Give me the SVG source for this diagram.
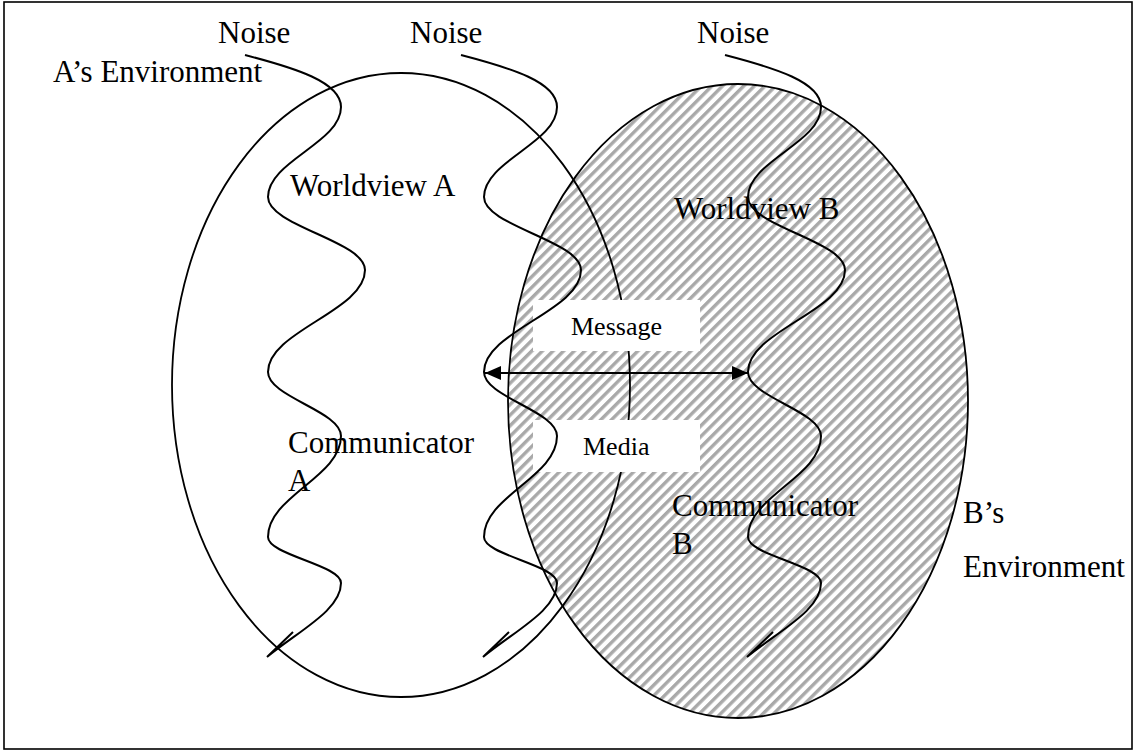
<svg xmlns="http://www.w3.org/2000/svg" width="1138" height="754" viewBox="0 0 1138 754">
<style>
.t{font-family:"Liberation Serif","Times New Roman",serif;font-size:31px;fill:#000}
.s{font-family:"Liberation Serif","Times New Roman",serif;font-size:26px;fill:#000}
.ln{fill:none;stroke:#000;stroke-width:1.8}
.wv{fill:none;stroke:#000;stroke-width:2}
.box{fill:#fff;stroke:none}
</style>
<defs>
<pattern id="hatch" patternUnits="userSpaceOnUse" width="7.5" height="7.5" patternTransform="rotate(45)">
<rect x="0" y="0" width="7.5" height="7.5" fill="#fff"/>
<rect x="0" y="0" width="3.4" height="7.5" fill="#a9a9a9"/>
</pattern>
<path id="wave" class="wv" d="M245,55 C295,68 341,82 341,107 C341,143 268,161 268,197 C268,226 365,241 365,270 C365,311 268,331 268,372 C268,397 341,411 341,436 C341,477 268,496 268,537 C268,555 341,565 341,583 C341,610 300,630 267,657 M293,632 L267,657"/>
<marker id="ah" viewBox="0 0 16 14" refX="16" refY="7" markerWidth="16" markerHeight="14" markerUnits="userSpaceOnUse" orient="auto-start-reverse">
<path d="M0,0 L16,7 L0,14 Z" fill="#000"/>
</marker>
</defs>
<rect x="4" y="2" width="1128" height="747" fill="#fff" stroke="#000" stroke-width="1.6"/>
<g id="ellipse-b">
<ellipse cx="738" cy="401" rx="230" ry="317" fill="url(#hatch)" stroke="#000" stroke-width="1.8"/>
</g>
<g id="ellipse-a">
<ellipse cx="401" cy="385" rx="229" ry="312" class="ln"/>
</g>
<g id="message">
<rect class="box" x="533" y="300" width="167" height="51"/>
<text class="s" x="571" y="335">Message</text>
</g>
<g id="media">
<rect class="box" x="533" y="420" width="167" height="52"/>
<text class="s" x="583" y="455">Media</text>
</g>
<g id="connectors">
<use href="#wave"/>
<use href="#wave" transform="translate(216,0)"/>
<use href="#wave" transform="translate(480,0)"/>
<line x1="485" y1="373" x2="748" y2="373" stroke="#000" stroke-width="2" marker-start="url(#ah)" marker-end="url(#ah)"/>
</g>
<g id="noise-labels">
<text class="t" x="218" y="43">Noise</text>
<text class="t" x="410" y="43">Noise</text>
<text class="t" x="697" y="43">Noise</text>
</g>
<g id="env-a"><text class="t" x="53" y="82">A’s Environment</text></g>
<g id="worldview-a"><text class="t" x="290" y="196">Worldview A</text></g>
<g id="worldview-b"><text class="t" x="674" y="219">Worldview B</text></g>
<g id="communicator-a"><text class="t" x="288" y="453">Communicator</text><text class="t" x="288" y="491">A</text></g>
<g id="communicator-b"><text class="t" x="672" y="516">Communicator</text><text class="t" x="672" y="554">B</text></g>
<g id="env-b"><text class="t" x="963" y="523">B’s</text><text class="t" x="963" y="577">Environment</text></g>
</svg>
